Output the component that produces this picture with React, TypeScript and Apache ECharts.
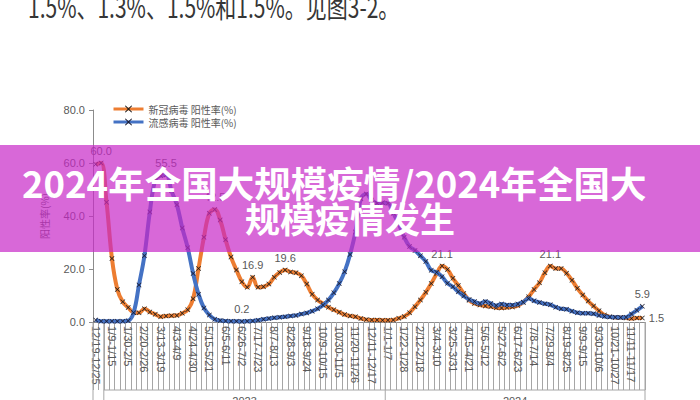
import React, { useEffect, useRef } from "react";
import * as echarts from "echarts";

const weeks2022 = ["12/19-12/25", "12/26-1/1"];
const weeks2023 = [
  "1/2-1/8", "1/9-1/15", "1/16-1/22", "1/23-1/29", "1/30-2/5", "2/6-2/12", "2/13-2/19", "2/20-2/26",
  "2/27-3/5", "3/6-3/12", "3/13-3/19", "3/20-3/26", "3/27-4/2", "4/3-4/9", "4/10-4/16", "4/17-4/23",
  "4/24-4/30", "5/1-5/7", "5/8-5/14", "5/15-5/21", "5/22-5/28", "5/29-6/4", "6/5-6/11", "6/12-6/18",
  "6/19-6/25", "6/26-7/2", "7/3-7/9", "7/10-7/16", "7/17-7/23", "7/24-7/30", "7/31-8/6", "8/7-8/13",
  "8/14-8/20", "8/21-8/27", "8/28-9/3", "9/4-9/10", "9/11-9/17", "9/18-9/24", "9/25-10/1", "10/2-10/8",
  "10/9-10/15", "10/16-10/22", "10/23-10/29", "10/30-11/5", "11/6-11/12", "11/13-11/19", "11/20-11/26",
  "11/27-12/3", "12/4-12/10", "12/11-12/17", "12/18-12/24", "12/25-12/31",
];
const weeks2024 = [
  "1/1-1/7", "1/8-1/14", "1/15-1/21", "1/22-1/28", "1/29-2/4", "2/5-2/11", "2/12-2/18", "2/19-2/25",
  "2/26-3/3", "3/4-3/10", "3/11-3/17", "3/18-3/24", "3/25-3/31", "4/1-4/7", "4/8-4/14", "4/15-4/21",
  "4/22-4/28", "4/29-5/5", "5/6-5/12", "5/13-5/19", "5/20-5/26", "5/27-6/2", "6/3-6/9", "6/10-6/16",
  "6/17-6/23", "6/24-6/30", "7/1-7/7", "7/8-7/14", "7/15-7/21", "7/22-7/28", "7/29-8/4", "8/5-8/11",
  "8/12-8/18", "8/19-8/25", "8/26-9/1", "9/2-9/8", "9/9-9/15", "9/16-9/22", "9/23-9/29", "9/30-10/6",
  "10/7-10/13", "10/14-10/20", "10/21-10/27", "10/28-11/3", "11/4-11/10", "11/11-11/17", "11/18-11/24",
  "11/25-12/1",
];
const categories = [...weeks2022, ...weeks2023, ...weeks2024];

const yearGroups = [
  { name: "2022", start: 0, end: 1 },
  { name: "2023", start: 2, end: 53 },
  { name: "2024", start: 54, end: 101 },
];

// 新冠病毒 阳性率(%)
const covidRate = [
  59.5, 60.0, 45.2, 24.0, 12.3, 7.6, 5.5, 3.6, 3.5, 5.0,
  3.8, 2.9, 2.0, 2.3, 2.4, 2.5, 3.3, 4.6, 8.8, 20.2,
  32.0, 41.0, 42.5, 38.5, 31.0, 24.5, 19.6, 15.2, 13.1, 16.9,
  13.1, 13.3, 14.3, 16.9, 18.7, 19.6, 18.9, 18.6, 17.5, 14.3,
  10.5, 8.3, 7.0, 5.6, 4.6, 3.7, 2.8, 2.3, 2.0, 1.3,
  0.9, 0.8, 0.8, 0.7, 0.7, 0.8, 1.4, 2.1, 3.5, 5.8,
  8.3, 11.2, 14.5, 18.2, 21.1, 19.8, 16.5, 13.8, 10.8, 8.2,
  7.0, 6.4, 6.0, 5.8, 5.4, 5.3, 5.5, 5.7, 6.2, 7.5,
  9.5, 12.3, 14.8, 18.6, 21.1, 20.2, 20.2, 18.4, 15.8, 12.7,
  10.2, 7.9, 6.0, 4.2, 2.6, 2.0, 1.7, 1.7, 1.5, 1.3,
  1.5, 1.5,
];

// 流感病毒 阳性率(%)
const fluRate = [
  0.8, 0.3, 0.3, 0.3, 0.3, 0.3, 0.5, 3.5, 14.0, 25.0,
  41.5, 53.5, 55.2, 55.5, 49.5, 44.2, 35.5, 28.0, 18.3, 10.5,
  5.3, 2.6, 1.0, 0.6, 0.4, 0.3, 0.3, 0.2, 0.3, 0.4,
  0.7, 1.0, 1.3, 1.6, 1.8, 2.0, 2.3, 2.5, 3.0, 3.4,
  4.1, 5.0, 6.3, 8.3, 11.0, 14.5, 19.0, 25.5, 34.0, 46.5,
  48.3, 46.0, 44.8, 45.0, 44.8, 41.0, 37.0, 32.0, 28.5, 27.0,
  25.0, 22.8, 19.5, 18.8, 17.1, 14.6, 13.3, 11.4, 9.8, 8.5,
  7.7, 7.0, 7.7, 7.0, 6.2, 6.8, 6.4, 6.4, 6.8, 7.5,
  8.9, 8.0, 7.4, 6.9, 6.5, 5.6, 5.0, 4.8, 4.1, 3.5,
  3.3, 3.3, 3.1, 2.5, 2.1, 1.9, 1.8, 1.7, 1.8, 3.0,
  4.4, 5.9,
];

const covidLabelAt: Record<number, string> = { 1: "top", 22: "top", 29: "top", 35: "top", 64: "top", 84: "top", 101: "right" };
const fluLabelAt: Record<number, string> = { 13: "top", 27: "top", 101: "top" };

const yMin = 0;
const yMax = 80;
const yStep = 20;

const seriesNames = ["新冠病毒 阳性率(%)", "流感病毒 阳性率(%)"];
const topText = "1.5%、1.3%、1.5%和1.5%。见图3-2。";
const bannerLines = ["2024年全国大规模疫情/2024年全国大", "规模疫情发生"];

const CROSS = "path://M1,0L5,4L9,0L10,1L6,5L10,9L9,10L5,6L1,10L0,9L4,5L0,1Z";
const GRAY = "#595959";
const AXIS = "#8c8c8c";
const NUMFONT = "'Liberation Sans', Arial, sans-serif";
const CJKFONT = "'Noto Sans CJK SC', sans-serif";

function withLabels(values: number[], at: Record<number, string>) {
  return values.map((v, i) =>
    at[i] ? { value: v, label: { show: true, position: at[i] } } : v
  );
}

export default function App() {
  const ref = useRef<HTMLDivElement>(null);
  useEffect(() => {
    if (!ref.current) return;
    const chart = echarts.init(ref.current, undefined, { renderer: "svg" });
    const lastGroup = yearGroups.length - 1;
    chart.setOption({
      animation: false,
      backgroundColor: "#ffffff",
      grid: { left: 93, right: 55, top: 110, bottom: 78, containLabel: false },
      legend: {
        data: seriesNames,
        orient: "vertical",
        left: 112,
        top: 104,
        padding: 0,
        itemWidth: 30,
        itemHeight: 9,
        itemGap: 3,
        lineStyle: { width: 3 },
        textStyle: { fontSize: 10, color: GRAY, fontFamily: CJKFONT },
      },
      xAxis: {
        type: "category",
        data: categories,
        boundaryGap: true,
        axisLine: { show: true, lineStyle: { color: AXIS, width: 1 } },
        axisTick: { show: true, interval: 0, length: 68, lineStyle: { color: "#a6a6a6" } },
        axisLabel: {
          interval: 2,
          rotate: -90,
          margin: 4,
          fontSize: 11,
          color: GRAY,
          fontFamily: NUMFONT,
        },
        splitLine: { show: false },
      },
      yAxis: {
        type: "value",
        min: yMin,
        max: yMax,
        interval: yStep,
        name: "阳性率(%)",
        nameLocation: "middle",
        nameGap: 44,
        nameRotate: 90,
        nameTextStyle: { color: GRAY, fontSize: 10, fontFamily: CJKFONT },
        axisLine: { show: true, lineStyle: { color: AXIS } },
        axisTick: { show: true, length: 4, lineStyle: { color: AXIS } },
        axisLabel: {
          formatter: (v: number) => v.toFixed(1),
          color: GRAY,
          fontSize: 11,
          margin: 8,
          fontFamily: NUMFONT,
        },
        splitLine: { show: false },
      },
      series: [
        {
          name: seriesNames[0],
          type: "line",
          data: withLabels(covidRate, covidLabelAt),
          smooth: 0.4,
          symbol: CROSS,
          symbolSize: 5,
          showAllSymbol: true,
          lineStyle: { color: "#ED7D31", width: 4 },
          itemStyle: { color: "#1a1a1a" },
          label: { show: false, color: GRAY, fontSize: 11, fontFamily: NUMFONT, distance: 4, formatter: (p: any) => Number(p.value).toFixed(1) },
          z: 2,
        },
        {
          name: seriesNames[1],
          type: "line",
          data: withLabels(fluRate, fluLabelAt),
          smooth: 0.4,
          symbol: CROSS,
          symbolSize: 5,
          showAllSymbol: true,
          lineStyle: { color: "#4472C4", width: 4 },
          itemStyle: { color: "#1a1a2e" },
          label: { show: false, color: GRAY, fontSize: 11, fontFamily: NUMFONT, distance: 4, formatter: (p: any) => Number(p.value).toFixed(1) },
          z: 3,
        },
        {
          type: "custom",
          silent: true,
          clip: false,
          encode: { x: 0, y: 2 },
          data: yearGroups.map((g) => [g.start, g.end, 0]),
          renderItem: (params: any, api: any) => {
            const s = api.value(0);
            const e = api.value(1);
            const bw = api.size([1, 0])[0];
            const p0 = api.coord([s, 0]);
            const p1 = api.coord([e, 0]);
            const x0 = p0[0] - bw / 2;
            const x1 = p1[0] + bw / 2;
            const y0 = p0[1];
            const st = { stroke: "#a6a6a6", lineWidth: 1 };
            const children: any[] = [
              { type: "line", shape: { x1: x0, y1: y0, x2: x0, y2: y0 + 100 }, style: st },
            ];
            if (params.dataIndex === lastGroup) {
              children.push({ type: "line", shape: { x1: x1, y1: y0, x2: x1, y2: y0 + 100 }, style: st });
            }
            if (e - s > 3) {
              children.push({ type: "line", shape: { x1: x0, y1: y0 + 68, x2: x1, y2: y0 + 68 }, style: st });
              children.push({
                type: "text",
                style: {
                  text: yearGroups[params.dataIndex].name,
                  x: (x0 + x1) / 2,
                  y: y0 + 73,
                  align: "center",
                  verticalAlign: "top",
                  fill: GRAY,
                  fontSize: 11,
                  fontFamily: NUMFONT,
                },
              });
            }
            return { type: "group", children };
          },
          z: 1,
        },
      ],
      graphic: [
        {
          type: "text",
          x: 28,
          y: -8,
          scaleX: 0.75,
          z: 50,
          style: { text: topText, fill: "#363636", fontSize: 28, fontFamily: CJKFONT, verticalAlign: "top" },
        },
        {
          type: "rect",
          left: 0,
          top: 145,
          z: 100,
          shape: { width: 700, height: 107 },
          style: { fill: "rgba(200,40,200,0.7)" },
        },
        {
          type: "text",
          left: 22,
          top: 164,
          z: 101,
          style: { text: bannerLines[0], fill: "#ffffff", fontSize: 36.5, fontWeight: "bold", fontFamily: CJKFONT },
        },
        {
          type: "text",
          left: "center",
          top: 200,
          z: 101,
          style: { text: bannerLines[1], fill: "#ffffff", fontSize: 35, fontWeight: "bold", fontFamily: CJKFONT },
        },
      ],
    });
    return () => chart.dispose();
  }, []);
  return (
    <div
      ref={ref}
      style={{ position: "absolute", left: 0, top: 0, width: 700, height: 400, background: "#fff" }}
    />
  );
}
